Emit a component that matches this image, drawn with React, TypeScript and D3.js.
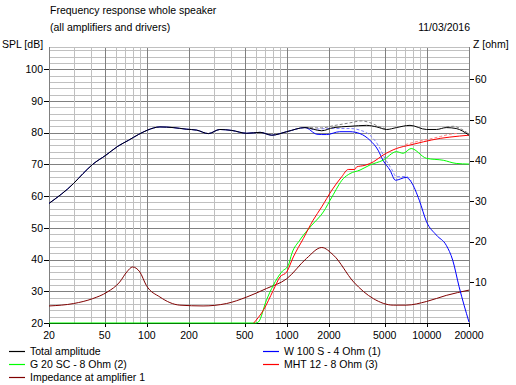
import * as d3 from "d3";

const W = 516;
const H = 385;
const X0 = 49;
const X1 = 469;
const Y_TOP = 47;
const Y_BOT = 323;
const FONT = "'Liberation Sans', Arial, sans-serif";

const X_TICKS = [20, 50, 100, 200, 500, 1000, 2000, 5000, 10000, 20000];
const DB_TICKS = [20, 30, 40, 50, 60, 70, 80, 90, 100];
const Z_TICKS = [10, 20, 30, 40, 50, 60];

// Total amplitude (dB)
const totalF = [20, 30, 35, 41, 51, 62, 74, 87, 101, 124, 154, 191, 227, 275, 332, 404, 517, 644, 780, 998, 1348, 1774, 2155, 2826, 3716, 4386, 5166, 6066, 7580, 9950, 11700, 13760, 16200, 20000];
const totalDb = [57.7, 64.0, 67.1, 70.0, 72.9, 75.7, 77.6, 79.4, 80.8, 81.8, 81.6, 81.1, 80.8, 79.7, 81.0, 80.7, 79.8, 80.1, 79.2, 80.3, 81.6, 80.6, 81.6, 82.0, 82.3, 81.8, 81.0, 81.6, 82.3, 81.0, 81.0, 81.6, 81.3, 79.2];

// dashed grey variant of the total
const totalAltF = [1348, 1774, 2155, 2826, 3400, 3900, 4500, 5200];
const totalAltDb = [81.6, 81.5, 82.2, 83.1, 83.7, 83.2, 82.0, 81.1];
const totalAlt2F = [13760, 15500, 17500, 20000];
const totalAlt2Db = [81.8, 82.0, 81.2, 79.6];

// W 100 S - 4 Ohm (1)
const wooferF = [20, 30, 35, 41, 51, 62, 74, 87, 101, 124, 154, 191, 227, 275, 332, 404, 517, 644, 780, 998, 1348, 1639, 1774, 1925, 2386, 2826, 3330, 3920, 4480, 4860, 5450, 5970, 7120, 7720, 8830, 9950, 11700, 13760, 15300, 17000, 20000];
const wooferDb = [57.7, 64.0, 67.1, 70.0, 72.9, 75.7, 77.6, 79.4, 80.8, 81.8, 81.6, 81.1, 80.8, 79.7, 81.0, 80.7, 79.8, 80.1, 79.2, 80.3, 81.6, 79.5, 79.4, 79.4, 80.3, 80.3, 79.7, 77.6, 74.5, 71.3, 68.2, 65.0, 65.9, 64.5, 58.7, 51.9, 47.7, 44.5, 39.8, 31.4, 20.3];
const wooferAltF = [1500, 2055, 2826, 3330, 3920, 4480, 5000, 5600, 6066, 7120, 7720];
const wooferAltDb = [81.0, 81.3, 81.3, 80.8, 79.2, 76.1, 72.0, 68.5, 66.1, 66.2, 64.8];

// G 20 SC - 8 Ohm (2)
const tweeterF = [20, 601, 626, 715, 800, 918, 1025, 1085, 1236, 1505, 1822, 2098, 2528, 2826, 3330, 3920, 4860, 6066, 6770, 7720, 9950, 13100, 16200, 20000];
const tweeterDb = [20, 20, 20.3, 27.2, 31.9, 36.1, 38.2, 41.9, 46.1, 50.8, 55.0, 59.7, 65.5, 67.1, 68.2, 69.8, 71.3, 74.0, 73.5, 75.0, 71.9, 71.3, 70.3, 70.1];

// MHT 12 - 8 Ohm (3)
const midF = [580, 679, 800, 893, 998, 1112, 1310, 1540, 1774, 2098, 2466, 2745, 3060, 3150, 3610, 4150, 4860, 6066, 7580, 9430, 12440, 14600, 20000];
const midDb = [20, 24.0, 30.3, 34.5, 36.1, 40.8, 46.6, 52.4, 56.6, 61.9, 66.1, 68.4, 68.4, 69.2, 69.7, 70.8, 72.9, 75.0, 76.1, 77.1, 78.2, 78.6, 79.2];
const midAltF = [7000, 8500, 10500, 12500, 14600, 17000];
const midAltDb = [76.2, 77.2, 78.0, 78.8, 79.5, 79.8];

// Impedance at amplifier 1 (ohm)
const impF = [20, 30, 41, 52, 64, 72, 79, 89, 99, 124, 172, 252, 371, 517, 715, 998, 1380, 1774, 2155, 3000, 4150, 5750, 7120, 9950, 13760, 20000];
const impZ = [4.2, 4.8, 6.0, 7.6, 10.1, 12.6, 13.8, 12.6, 9.3, 6.4, 4.4, 4.2, 4.8, 6.4, 8.5, 10.9, 15.9, 18.6, 16.7, 10.1, 6.0, 4.4, 4.4, 5.3, 6.8, 8.1];

const LEGEND = [
  { label: "Total amplitude", color: "#000000", col: 0, row: 0 },
  { label: "W 100 S - 4 Ohm (1)", color: "#0000ff", col: 1, row: 0 },
  { label: "G 20 SC - 8 Ohm (2)", color: "#00ff00", col: 0, row: 1 },
  { label: "MHT 12 - 8 Ohm (3)", color: "#ff0000", col: 1, row: 1 },
  { label: "Impedance at amplifier 1", color: "#800000", col: 0, row: 2 },
];

export default function App() {
  const x = d3.scaleLog().domain([20, 20000]).range([X0, X1]);
  const yDb = d3.scaleLinear().domain([20, 107]).range([Y_BOT, Y_TOP]);
  const yZ = d3.scaleLinear().domain([0, 68]).range([Y_BOT, Y_TOP]);

  const lineDb = (fs: number[], vs: number[]) =>
    d3
      .line<number>()
      .x((_, i) => x(fs[i]))
      .y((v) => yDb(v))
      .curve(d3.curveMonotoneX)(vs) ?? "";
  const lineZ = d3
    .line<number>()
    .x((_, i) => x(impF[i]))
    .y((v) => yZ(v))
    .curve(d3.curveMonotoneX);

  const vGrid: number[] = [];
  for (let dec = 10; dec <= 10000; dec *= 10) {
    for (let k = 1; k <= 9; k++) {
      const f = dec * k;
      if (f >= 20 && f <= 20000) vGrid.push(f);
    }
  }
  const hGrid = d3.range(20, 107, 2);

  return (
    <svg
      width={W}
      height={H}
      style={{ position: "absolute", left: 0, top: 0, background: "#fff" }}
      fontFamily={FONT}
      fontSize={10.5}
    >
      <rect width={W} height={H} fill="#fff" />
      <g shapeRendering="crispEdges">
        {hGrid.map((d) => (
          <line
            key={`h${d}`}
            x1={X0}
            x2={X1}
            y1={Math.round(yDb(d)) + 0.5}
            y2={Math.round(yDb(d)) + 0.5}
            stroke={d % 10 === 0 ? "#808080" : "#c0c0c0"}
          />
        ))}
        {vGrid.map((f) => (
          <line
            key={`v${f}`}
            x1={Math.round(x(f)) + 0.5}
            x2={Math.round(x(f)) + 0.5}
            y1={Y_TOP}
            y2={Y_BOT}
            stroke={X_TICKS.includes(f) ? "#808080" : "#c0c0c0"}
          />
        ))}
        <line x1={X0} x2={X1} y1={Y_TOP + 0.5} y2={Y_TOP + 0.5} stroke="#c0c0c0" />
        <line x1={X0 + 0.5} x2={X0 + 0.5} y1={Y_TOP} y2={Y_BOT + 4} stroke="#808080" />
        <line x1={X1 + 0.5} x2={X1 + 0.5} y1={Y_TOP} y2={Y_BOT + 4} stroke="#808080" />
        <line x1={X0} x2={X1 + 1} y1={Y_BOT + 0.5} y2={Y_BOT + 0.5} stroke="#000" />
        {DB_TICKS.map((d) => (
          <line key={`dt${d}`} x1={X0 - 5} x2={X0} y1={Math.round(yDb(d)) + 0.5} y2={Math.round(yDb(d)) + 0.5} stroke="#000" />
        ))}
        {Z_TICKS.map((d) => (
          <line key={`zt${d}`} x1={X1 + 1} x2={X1 + 5} y1={Math.round(yZ(d)) + 0.5} y2={Math.round(yZ(d)) + 0.5} stroke="#000" />
        ))}
        {X_TICKS.map((f) => (
          <line key={`xt${f}`} x1={Math.round(x(f)) + 0.5} x2={Math.round(x(f)) + 0.5} y1={Y_BOT} y2={Y_BOT + 4} stroke="#000" />
        ))}
      </g>

      <g fill="none" strokeWidth={1} strokeDasharray="3,2">
        <path d={lineDb(wooferAltF, wooferAltDb)} stroke="#8080ff" />
        <path d={lineDb(midAltF, midAltDb)} stroke="#ff8080" />
        <path d={lineDb(totalAltF, totalAltDb)} stroke="#808080" />
        <path d={lineDb(totalAlt2F, totalAlt2Db)} stroke="#808080" />
      </g>
      <g fill="none" strokeWidth={1}>
        <path d={lineZ(impZ) ?? ""} stroke="#800000" />
        <path d={lineDb(wooferF, wooferDb)} stroke="#0000ff" />
        <path d={lineDb(tweeterF, tweeterDb)} stroke="#00ff00" />
        <path d={lineDb(midF, midDb)} stroke="#ff0000" />
        <path d={lineDb(totalF, totalDb)} stroke="#000000" />
      </g>

      <g fill="#000">
        <text x={50} y={14}>Frequency response whole speaker</text>
        <text x={50} y={31}>(all amplifiers and drivers)</text>
        <text x={470} y={31} textAnchor="end">11/03/2016</text>
        <text x={2} y={48}>SPL [dB]</text>
        <text x={473} y={48}>Z [ohm]</text>
        {DB_TICKS.map((d) => (
          <text key={`dl${d}`} x={X0 - 6} y={yDb(d)} dy="0.35em" textAnchor="end">
            {d}
          </text>
        ))}
        {Z_TICKS.map((d) => (
          <text key={`zl${d}`} x={X1 + 6} y={yZ(d)} dy="0.35em">
            {d}
          </text>
        ))}
        {X_TICKS.map((f) => (
          <text key={`xl${f}`} x={x(f)} y={339} textAnchor="middle">
            {f}
          </text>
        ))}
      </g>

      <g>
        {LEGEND.map((l) => {
          const lx = l.col === 0 ? 9 : 263;
          const ly = 351.5 + l.row * 13;
          return (
            <g key={l.label}>
              <line x1={lx} x2={lx + 16} y1={ly} y2={ly} stroke={l.color} strokeWidth={1.2} />
              <text x={lx + 21} y={ly} dy="0.35em" fill="#000">
                {l.label}
              </text>
            </g>
          );
        })}
      </g>
    </svg>
  );
}
